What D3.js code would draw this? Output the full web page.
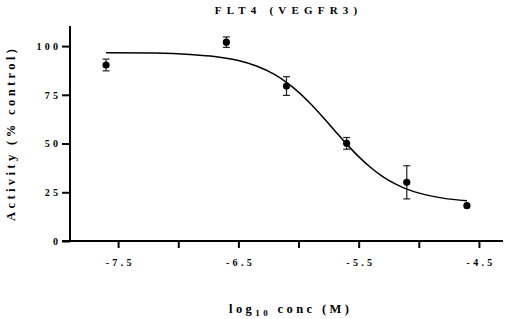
<!DOCTYPE html>
<html>
<head>
<meta charset="utf-8">
<script src="https://cdnjs.cloudflare.com/ajax/libs/d3/7.8.5/d3.min.js"></script>
<style>
  body { margin: 0; background: #fff; }
  svg text { font-family: "Liberation Serif", "DejaVu Serif", serif; font-weight: bold; fill: #000; }
</style>
</head>
<body>
<div id="chart"></div>
<script>

// measured data (mean and error per concentration)
var log_conc = [-7.6, -6.6, -6.1, -5.6, -5.1, -4.6];
var activity = [90.3, 102, 79.5, 50.1, 30.1, 18.1];
var error_bar = [3, 2.7, 4.8, 3, 8.5, 0];

// fitted curve
var fit_x = [-7.6, -7.2, -6.9, -6.7, -6.5, -6.35, -6.2, -6.1, -6.0, -5.9, -5.8, -5.7, -5.6, -5.5, -5.4, -5.3, -5.2, -5.1, -4.95, -4.8, -4.6];
var fit_y = [96.6, 96.4, 95.7, 94.7, 92.6, 89.8, 85.5, 81.4, 76.4, 70.4, 63.7, 56.7, 49.7, 43.3, 37.7, 33.0, 29.4, 26.6, 23.8, 22.0, 20.7];

// axis ticks
var x_ticks = [-7.5, -7, -6.5, -6, -5.5, -5, -4.5];
var x_labels = ["-7.5", "", "-6.5", "", "-5.5", "", "-4.5"];
var y_ticks = [0, 25, 50, 75, 100];

// chart size
var margin = {top: 26, right: 2, bottom: 78, left: 70},
    width = 505 - margin.left - margin.right,
    height = 319 - margin.top - margin.bottom;

var svg = d3.select("#chart").append("svg")
    .attr("width", 505)
    .attr("height", 319)
  .append("g")
    .attr("transform", "translate(" + margin.left + "," + margin.top + ")");

// scales
var x = d3.scaleLinear().domain([-7.9, -4.3]).range([0, width]);
var y = d3.scaleLinear().domain([0, 110.3]).range([height, 0]);

// x axis
var x_axis = svg.append("g")
    .attr("class", "axis")
    .attr("transform", "translate(0," + height + ")")
    .call(d3.axisBottom(x)
      .tickValues(x_ticks)
      .tickSize(7)
      .tickPadding(11)
      .tickFormat(function(d, i) { return x_labels[i]; }));

// y axis
var y_axis = svg.append("g")
    .attr("class", "axis")
    .call(d3.axisLeft(y)
      .tickValues(y_ticks)
      .tickSize(8)
      .tickPadding(4)
      .tickFormat(d3.format("d")));

// thick black axis lines like the original
svg.selectAll(".axis .domain")
    .attr("stroke", "#000")
    .attr("stroke-width", 2);
x_axis.select(".domain")
    .attr("d", "M-8,0H" + width);
y_axis.select(".domain")
    .attr("d", "M0," + height + "V0");

svg.selectAll(".axis .tick line")
    .attr("stroke", "#000")
    .attr("stroke-width", 2);

svg.selectAll(".axis text")
    .style("font-size", "10px")
    .style("letter-spacing", "3.3px")
    .style("font-family", "'Liberation Serif', serif")
    .style("font-weight", "bold");

x_axis.selectAll("text").attr("dx", "1.6px");
y_axis.selectAll("text").attr("dx", "3.3px");

// fitted curve
var line = d3.line()
    .x(function(d) { return x(d[0]); })
    .y(function(d) { return y(d[1]); })
    .curve(d3.curveMonotoneX);

svg.append("path")
    .datum(fit_x.map(function(v, i) { return [v, fit_y[i]]; }))
    .attr("d", line)
    .attr("fill", "none")
    .attr("stroke", "#000")
    .attr("stroke-width", 1.5);

// error bars
var points = log_conc.map(function(v, i) {
  return {x: v, y: activity[i], e: error_bar[i]};
});

var bars = svg.selectAll(".err")
    .data(points.filter(function(d) { return d.e > 0; }))
  .enter().append("g")
    .attr("class", "err")
    .attr("stroke", "#222")
    .attr("stroke-width", 1.2);

bars.append("line")
    .attr("x1", function(d) { return x(d.x); })
    .attr("x2", function(d) { return x(d.x); })
    .attr("y1", function(d) { return y(d.y + d.e); })
    .attr("y2", function(d) { return y(d.y - d.e); });

bars.append("line")
    .attr("x1", function(d) { return x(d.x) - 3.5; })
    .attr("x2", function(d) { return x(d.x) + 3.5; })
    .attr("y1", function(d) { return y(d.y + d.e); })
    .attr("y2", function(d) { return y(d.y + d.e); });

bars.append("line")
    .attr("x1", function(d) { return x(d.x) - 3.5; })
    .attr("x2", function(d) { return x(d.x) + 3.5; })
    .attr("y1", function(d) { return y(d.y - d.e); })
    .attr("y2", function(d) { return y(d.y - d.e); });

// data points
svg.selectAll(".dot")
    .data(points)
  .enter().append("circle")
    .attr("class", "dot")
    .attr("cx", function(d) { return x(d.x); })
    .attr("cy", function(d) { return y(d.y); })
    .attr("r", 3.6)
    .attr("fill", "#000");

// title
svg.append("text")
    .attr("x", 216)
    .attr("dx", 2.6)
    .attr("y", -12.5)
    .attr("text-anchor", "middle")
    .style("font-size", "11px")
    .style("letter-spacing", "5.2px")
    .text("FLT4 (VEGFR3)");

// x axis title with subscript
var x_title = svg.append("text")
    .attr("x", 219)
    .attr("dx", 1.7)
    .attr("y", height + 72)
    .attr("text-anchor", "middle")
    .style("font-size", "12.5px")
    .style("letter-spacing", "3.4px");
x_title.append("tspan").text("log");
x_title.append("tspan")
    .attr("dy", "3")
    .style("font-size", "9px")
    .text("10");
x_title.append("tspan")
    .attr("dy", "-3")
    .text(" conc (M)");

// y axis title
svg.append("text")
    .attr("transform", "translate(-55," + (height / 2 + 1.5) + ") rotate(-90)")
    .attr("dx", 1.7)
    .attr("text-anchor", "middle")
    .style("font-size", "12.5px")
    .style("letter-spacing", "3.4px")
    .text("Activity (% control)");

</script>
</body>
</html>
